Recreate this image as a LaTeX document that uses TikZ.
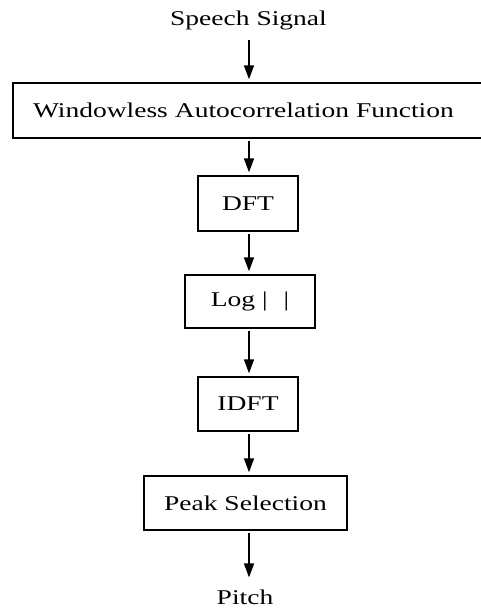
\documentclass[tikz,border=0pt]{standalone}
\usepackage{fontspec}
\setmainfont[FakeStretch=1.31]{Liberation Serif}
\usetikzlibrary{arrows.meta}

\begin{document}
\begin{tikzpicture}[
  x=1pt, y=-1pt,
  block/.style={draw, line width=1.4pt, minimum width=#1, inner sep=0pt, font=\fontsize{21}{24}\selectfont},
  termtext/.style={inner sep=0pt, font=\fontsize{21}{24}\selectfont},
  flow/.style={line width=1.6pt, -{Triangle[width=10pt,length=14pt]}, shorten <=2pt, shorten >=3pt},
]
\useasboundingbox (0,0) rectangle (481,612);
\clip (0,0) rectangle (481,612);
\coordinate (axis) at (249,0);

% Input and output
\node[termtext] (sig) at (248.5, 20) {Speech Signal};
\node[termtext] (pitch) at (245, 597) {Pitch};

% Processing blocks
\node[block=530pt, minimum height=55pt, text width=490pt, align=left, inner xsep=20pt] (acf) at (278, 110.5) {Windowless Autocorrelation Function};
\node[block=100pt, minimum height=55pt] (dft) at (248, 203.5) {DFT};
\node[block=130pt, minimum height=53pt] (log) at (250, 301.5) {Log |\hspace{16pt}|};
\node[block=100pt, minimum height=54pt] (idft) at (248, 404) {IDFT};
\node[block=203pt, minimum height=54pt] (peak) at (245.5, 503) {Peak Selection};

% Arrows
\draw[flow, shorten <=10pt] (sig.south -| axis) -- (acf.north -| axis);
\foreach \a/\b in {acf/dft, dft/log, log/idft, idft/peak} {
  \draw[flow] (\a.south -| axis) -- (\b.north -| axis);
}
\draw[flow, shorten >=12pt] (peak.south -| axis) -- (pitch.north -| axis);

\end{tikzpicture}
\end{document}
